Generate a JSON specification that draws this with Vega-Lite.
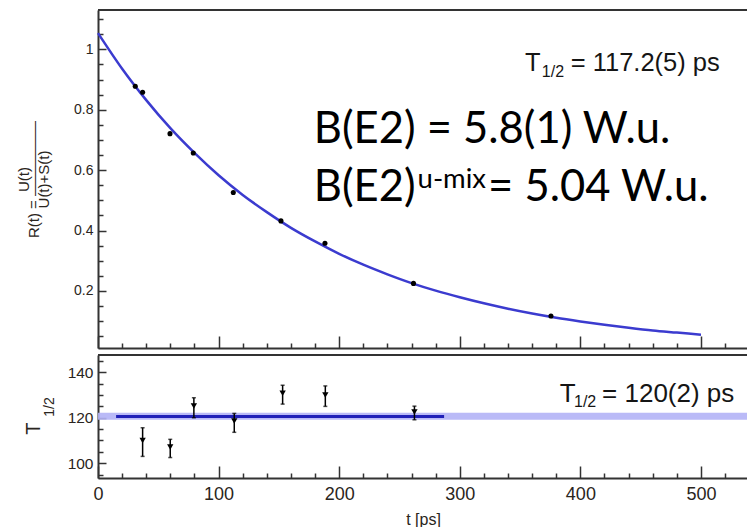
{
  "$schema": "https://vega.github.io/schema/vega-lite/v6.json",
  "background": "white",
  "padding": {"left": 16, "top": 9, "right": 0, "bottom": 0},
  "bounds": "flush",
  "spacing": 7,
  "config": {
    "view": {"stroke": null},
    "font": "Liberation Sans",
    "axis": {
      "grid": false,
      "domainColor": "#333333",
      "domainWidth": 2,
      "tickColor": "#333333",
      "tickWidth": 1.5,
      "tickCount": 200,
      "labelColor": "#2a2520",
      "titleColor": "#2a2520",
      "labelFont": "Liberation Sans",
      "titleFont": "Liberation Sans",
      "titleFontWeight": "normal",
      "labelFlush": false,
      "labelBound": false
    }
  },
  "datasets": {
    "ratio": [
      {"t": 30.9, "R": 0.878},
      {"t": 37.0, "R": 0.858},
      {"t": 59.7, "R": 0.721},
      {"t": 79.0, "R": 0.657},
      {"t": 112.2, "R": 0.526},
      {"t": 151.7, "R": 0.432},
      {"t": 188.2, "R": 0.358},
      {"t": 261.6, "R": 0.225},
      {"t": 375.6, "R": 0.117}
    ],
    "fit": [
      {"t": 0, "R": 1.054}, {"t": 20, "R": 0.936}, {"t": 40, "R": 0.832},
      {"t": 60, "R": 0.739}, {"t": 80, "R": 0.657}, {"t": 100, "R": 0.583},
      {"t": 120, "R": 0.518}, {"t": 140, "R": 0.461}, {"t": 160, "R": 0.409},
      {"t": 180, "R": 0.364}, {"t": 200, "R": 0.323}, {"t": 220, "R": 0.287},
      {"t": 240, "R": 0.255}, {"t": 260, "R": 0.226}, {"t": 280, "R": 0.201},
      {"t": 300, "R": 0.179}, {"t": 320, "R": 0.159}, {"t": 340, "R": 0.141},
      {"t": 360, "R": 0.125}, {"t": 380, "R": 0.111}, {"t": 400, "R": 0.099},
      {"t": 420, "R": 0.088}, {"t": 440, "R": 0.078}, {"t": 460, "R": 0.069},
      {"t": 480, "R": 0.062}, {"t": 500, "R": 0.055}
    ],
    "halflife": [
      {"t": 37.0, "T": 110.0, "lo": 103.0, "hi": 115.6},
      {"t": 59.9, "T": 107.1, "lo": 102.5, "hi": 110.5},
      {"t": 79.5, "T": 125.2, "lo": 120.0, "hi": 128.8},
      {"t": 113.0, "T": 118.6, "lo": 113.6, "hi": 121.9},
      {"t": 153.1, "T": 130.8, "lo": 126.0, "hi": 134.3},
      {"t": 188.5, "T": 130.0, "lo": 125.0, "hi": 134.0},
      {"t": 262.4, "T": 122.5, "lo": 119.1, "hi": 125.1}
    ]
  },
  "vconcat": [
    {
      "width": 650,
      "height": 338,
      "layer": [
        {
          "data": {"name": "fit"},
          "mark": {"type": "line", "color": "#3b3bcf", "strokeWidth": 2.5, "interpolate": "monotone"},
          "encoding": {
            "x": {
              "field": "t", "type": "quantitative",
              "scale": {"domain": [0, 539], "nice": false, "zero": false},
              "axis": {
                "title": null,
                "labels": false,
                "labelOverlap": false,
                "values": [0,20,40,60,80,100,120,140,160,180,200,220,240,260,280,300,320,340,360,380,400,420,440,460,480,500,520],
                "tickSize": {"condition": {"test": "datum.value % 100 === 0", "value": -12}, "value": -5}
              }
            },
            "y": {
              "field": "R", "type": "quantitative",
              "scale": {"domain": [0.011, 1.1305], "nice": false, "zero": false},
              "axis": {
                "title": ["\u00a0\u00a0\u00a0\u00a0\u00a0\u00a0\u00a0\u00a0\u00a0\u00a0U(t)", "R(t) = \u2014\u2014\u2014\u2014\u2014", "\u00a0\u00a0\u00a0\u00a0\u00a0\u00a0\u00a0\u00a0\u00a0\u00a0U(t)+S(t)"],
                "titleFontSize": 15,
                "titleLineHeight": 10,
                "titlePadding": 22,
                "values": [0.05,0.1,0.15,0.2,0.25,0.3,0.35,0.4,0.45,0.5,0.55,0.6,0.65,0.7,0.75,0.8,0.85,0.9,0.95,1.0,1.05,1.1],
                "labelExpr": "abs(datum.value * 5 - round(datum.value * 5)) < 0.001 ? toString(round(datum.value * 10) / 10) : ''",
                "labelOverlap": false,
                "labelFontSize": 14,
                "labelPadding": 13,
                "tickSize": {"condition": {"test": "abs(datum.value * 5 - round(datum.value * 5)) < 0.001", "value": -8}, "value": -5}
              }
            }
          }
        },
        {
          "data": {"values": [{}]},
          "mark": {"type": "rule", "color": "#333333", "strokeWidth": 2},
          "encoding": {"y": {"datum": 1.1305}}
        },
        {
          "data": {"name": "ratio"},
          "mark": {"type": "circle", "color": "#000000", "size": 26, "opacity": 1},
          "encoding": {
            "x": {"field": "t", "type": "quantitative"},
            "y": {"field": "R", "type": "quantitative"}
          }
        },
        {
          "data": {"values": [{}]},
          "mark": {"type": "text", "align": "left", "baseline": "alphabetic", "fontSize": 25.5, "color": "#151515", "font": "Liberation Sans"},
          "encoding": {"x": {"datum": 354}, "y": {"datum": 0.927}, "text": {"value": "T"}}
        },
        {
          "data": {"values": [{}]},
          "mark": {"type": "text", "align": "left", "baseline": "alphabetic", "fontSize": 16, "color": "#151515", "font": "Liberation Sans"},
          "encoding": {"x": {"datum": 368}, "y": {"datum": 0.907}, "text": {"value": "1/2"}}
        },
        {
          "data": {"values": [{}]},
          "mark": {"type": "text", "align": "left", "baseline": "alphabetic", "fontSize": 25.5, "color": "#151515", "font": "Liberation Sans"},
          "encoding": {"x": {"datum": 392}, "y": {"datum": 0.927}, "text": {"value": "= 117.2(5) ps"}}
        },
        {
          "data": {"values": [{}]},
          "mark": {"type": "text", "align": "left", "baseline": "alphabetic", "fontSize": 43.5, "color": "#000000", "font": "Lato"},
          "encoding": {"x": {"datum": 179}, "y": {"datum": 0.69}, "text": {"value": "B(E2) = 5.8(1) W.u."}}
        },
        {
          "data": {"values": [{}]},
          "mark": {"type": "text", "align": "left", "baseline": "alphabetic", "fontSize": 43.5, "color": "#000000", "font": "Lato"},
          "encoding": {"x": {"datum": 179}, "y": {"datum": 0.4975}, "text": {"value": "B(E2)"}}
        },
        {
          "data": {"values": [{}]},
          "mark": {"type": "text", "align": "left", "baseline": "alphabetic", "fontSize": 27.5, "color": "#000000", "font": "Lato"},
          "encoding": {"x": {"datum": 265}, "y": {"datum": 0.5415}, "text": {"value": "u-mix"}}
        },
        {
          "data": {"values": [{}]},
          "mark": {"type": "text", "align": "left", "baseline": "alphabetic", "fontSize": 43.5, "color": "#000000", "font": "Lato"},
          "encoding": {"x": {"datum": 323.5}, "y": {"datum": 0.4975}, "text": {"value": "= 5.04 W.u."}}
        }
      ]
    },
    {
      "width": 650,
      "height": 123,
      "layer": [
        {
          "data": {"values": [{}]},
          "mark": {"type": "rect", "color": "#b3b3f6", "opacity": 0.9},
          "encoding": {
            "x": {
              "datum": 0, "type": "quantitative",
              "scale": {"domain": [0, 539], "nice": false, "zero": false},
              "axis": {
                "title": "t [ps]",
                "titleFontSize": 16,
                "titlePadding": 1,
                "values": [0,20,40,60,80,100,120,140,160,180,200,220,240,260,280,300,320,340,360,380,400,420,440,460,480,500,520],
                "labelExpr": "datum.value % 100 === 0 ? datum.label : ''",
                "labelOverlap": false,
                "labelFontSize": 18,
                "labelPadding": 19,
                "tickSize": {"condition": {"test": "datum.value % 100 === 0", "value": -12}, "value": -5}
              }
            },
            "x2": {"datum": 539},
            "y": {
              "datum": 119.1, "type": "quantitative",
              "scale": {"domain": [93.5, 147.6], "nice": false, "zero": false},
              "axis": {
                "title": null,
                "values": [95,100,105,110,115,120,125,130,135,140,145],
                "labelExpr": "datum.value % 20 === 0 ? format(datum.value, 'd') : ''",
                "labelOverlap": false,
                "labelFontSize": 15.5,
                "labelPadding": 13,
                "tickSize": {"condition": {"test": "datum.value % 20 === 0", "value": -8}, "value": -5}
              }
            },
            "y2": {"datum": 122.2}
          }
        },
        {
          "data": {"values": [{}]},
          "mark": {"type": "rule", "color": "#2020b8", "strokeWidth": 3},
          "encoding": {"x": {"datum": 15}, "x2": {"datum": 287}, "y": {"datum": 120.6}}
        },
        {
          "data": {"values": [{}]},
          "mark": {"type": "rule", "color": "#333333", "strokeWidth": 2},
          "encoding": {"y": {"datum": 147.6}}
        },
        {
          "data": {"name": "halflife"},
          "mark": {"type": "errorbar", "ticks": {"size": 4, "thickness": 1.5}, "rule": {"strokeWidth": 1.5}, "color": "#000000"},
          "encoding": {
            "x": {"field": "t", "type": "quantitative"},
            "y": {"field": "lo", "type": "quantitative"},
            "y2": {"field": "hi"}
          }
        },
        {
          "data": {"name": "halflife"},
          "mark": {"type": "point", "shape": "triangle-down", "filled": true, "color": "#000000", "size": 40, "opacity": 1},
          "encoding": {
            "x": {"field": "t", "type": "quantitative"},
            "y": {"field": "T", "type": "quantitative"}
          }
        },
        {
          "data": {"values": [{}]},
          "mark": {"type": "text", "align": "center", "baseline": "alphabetic", "angle": 270, "fontSize": 20, "color": "#2a2520", "font": "Liberation Sans"},
          "encoding": {"x": {"datum": -48}, "y": {"datum": 115.2}, "text": {"value": "T"}}
        },
        {
          "data": {"values": [{}]},
          "mark": {"type": "text", "align": "center", "baseline": "alphabetic", "angle": 270, "fontSize": 14, "color": "#2a2520", "font": "Liberation Sans"},
          "encoding": {"x": {"datum": -36.5}, "y": {"datum": 124.7}, "text": {"value": "1/2"}}
        },
        {
          "data": {"values": [{}]},
          "mark": {"type": "text", "align": "left", "baseline": "alphabetic", "fontSize": 26, "color": "#151515", "font": "Liberation Sans"},
          "encoding": {"x": {"datum": 383}, "y": {"datum": 126.9}, "text": {"value": "T"}}
        },
        {
          "data": {"values": [{}]},
          "mark": {"type": "text", "align": "left", "baseline": "alphabetic", "fontSize": 16, "color": "#151515", "font": "Liberation Sans"},
          "encoding": {"x": {"datum": 394.7}, "y": {"datum": 124.7}, "text": {"value": "1/2"}}
        },
        {
          "data": {"values": [{}]},
          "mark": {"type": "text", "align": "left", "baseline": "alphabetic", "fontSize": 26, "color": "#151515", "font": "Liberation Sans"},
          "encoding": {"x": {"datum": 418}, "y": {"datum": 126.9}, "text": {"value": "= 120(2) ps"}}
        }
      ]
    }
  ]
}
